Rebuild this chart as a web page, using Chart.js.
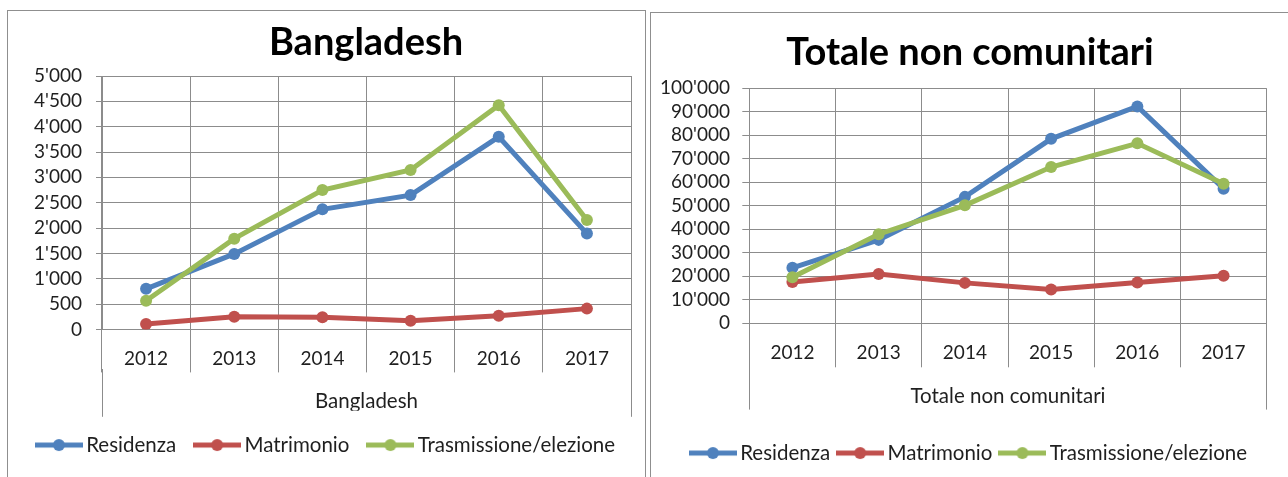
<!DOCTYPE html>
<html>
<head>
<meta charset="utf-8">
<script src="https://cdn.jsdelivr.net/npm/chart.js@4.4.1/dist/chart.umd.min.js"></script>
<style>
  html, body { margin: 0; padding: 0; background: #fff; overflow: hidden; }
  body { width: 1288px; height: 477px; position: relative; }
  .frame { position: absolute; border: 1px solid #8f8f8f; background: #fff; }
  #frameL { left: 7px; top: 10px; width: 637px; height: 480px; }
  #frameR { left: 650px; top: 12px; width: 660px; height: 480px; }
  .wrap { position: absolute; }
  #wrapL { left: 8px; top: 11px; width: 637px; height: 466px; }
  #wrapR { left: 651px; top: 13px; width: 639px; height: 464px; }
</style>
</head>
<body>
<div class="frame" id="frameL"></div>
<div class="frame" id="frameR"></div>
<div class="wrap" id="wrapL"><canvas id="chartL"></canvas></div>
<div class="wrap" id="wrapR"><canvas id="chartR"></canvas></div>
<script>
// ---------- data ----------
const years = ['2012', '2013', '2014', '2015', '2016', '2017'];
const seriesNames = ['Residenza', 'Matrimonio', 'Trasmissione/elezione'];

const bdResidenza    = [800, 1490, 2370, 2650, 3800, 1890];
const bdMatrimonio   = [105, 250, 240, 170, 270, 410];
const bdTrasmissione = [565, 1790, 2750, 3145, 4425, 2160];

const tncResidenza    = [23600, 35500, 53800, 78500, 92300, 57300];
const tncMatrimonio   = [17600, 21000, 17200, 14400, 17400, 20200];
const tncTrasmissione = [19600, 37900, 50200, 66500, 76600, 59400];

const colors = ['#4f81bd', '#c0504d', '#9bbb59'];
const gridColor = '#8c8c8c';
const textColor = '#1f1f1f';
const FONT = 'Lato, "Open Sans", sans-serif';

// thousands with apostrophe, e.g. 5'000
const fmt = (v) => String(v).replace(/\B(?=(\d{3})+(?!\d))/g, "'");

// legend icon: line with a dot in the middle
function legendIcon(color){
  const c = document.createElement('canvas');
  c.width = 48; c.height = 14;
  const g = c.getContext('2d');
  g.strokeStyle = color; g.lineWidth = 5;
  g.beginPath(); g.moveTo(0, 7); g.lineTo(48, 7); g.stroke();
  g.fillStyle = color;
  g.beginPath(); g.arc(24, 7, 6, 0, Math.PI * 2); g.fill();
  return c;
}

// move title / legend centres to where the original has them
function centerBlocks(titleX, legendX){
  return {
    id: 'centerBlocks',
    afterLayout(chart){
      const t = chart.titleBlock, lg = chart.legend;
      let w = t.right - t.left;
      t.left = titleX - w / 2; t.right = titleX + w / 2;
      w = lg.right - lg.left;
      lg.left = legendX - w / 2; lg.right = legendX + w / 2;
    }
  };
}

function makeChart(id, title, values, L){
  const datasets = values.map((data, i) => ({
    label: seriesNames[i],
    data,
    borderColor: colors[i],
    backgroundColor: colors[i],
    pointBackgroundColor: colors[i],
    pointBorderWidth: 0,
    pointRadius: 6,
    borderWidth: 5,
    tension: 0,
    order: 3 - i
  }));
  const tickFont = { family: FONT, size: 19 };
  const wordFont = { family: FONT, size: 20.5 };
  return new Chart(document.getElementById(id), {
    type: 'line',
    data: { labels: years, datasets },
    plugins: [centerBlocks(L.titleX, L.legendX)],
    options: {
      responsive: true,
      maintainAspectRatio: false,
      animation: false,
      layout: { padding: { left: 0, top: 0, right: L.padR, bottom: L.padB } },
      plugins: {
        tooltip: { enabled: false },
        title: {
          display: true, text: title, color: '#000',
          font: { family: FONT, size: 38, weight: 'bold' },
          padding: { top: L.titleTop, bottom: L.titleBottom }
        },
        legend: {
          position: 'bottom',
          labels: {
            usePointStyle: true,
            pointStyleWidth: 34,
            padding: L.legendPad,
            color: textColor,
            font: wordFont,
            sort: (a, b) => a.datasetIndex - b.datasetIndex,
            generateLabels(chart){
              const items = Chart.defaults.plugins.legend.labels.generateLabels(chart);
              items.forEach(it => { it.pointStyle = legendIcon(colors[it.datasetIndex]); });
              return items;
            }
          }
        }
      },
      scales: {
        x: {
          type: 'category', position: 'bottom', offset: true, weight: 0,
          grid: { offset: true, color: gridColor, tickColor: gridColor, tickLength: L.xTick },
          border: { color: gridColor },
          ticks: { font: tickFont, color: textColor, padding: L.xPad, maxRotation: 0, autoSkip: false },
          afterFit: (s) => { s.height = L.xH; }
        },
        x2: {
          type: 'category', position: 'bottom', offset: true, weight: 1,
          labels: [title],
          grid: { offset: true, drawOnChartArea: false, color: gridColor, tickColor: gridColor, tickLength: L.x2Tick },
          border: { display: false },
          ticks: { font: wordFont, color: textColor, padding: L.x2Pad, maxRotation: 0 },
          afterFit: (s) => { s.height = L.x2H; }
        },
        y: {
          min: 0, max: L.yMax,
          grid: { color: gridColor, tickColor: gridColor, tickLength: L.yTick },
          border: { color: gridColor },
          ticks: { stepSize: L.yStep, autoSkip: false, font: tickFont, color: textColor, padding: L.yPad, callback: fmt },
          afterFit: (s) => { s.width = L.yW; }
        }
      }
    }
  });
}

makeChart('chartL', 'Bangladesh', [bdResidenza, bdMatrimonio, bdTrasmissione], {
  padR: 14, padB: 11.7, yW: 94, yTick: 6, yPad: 14, yMax: 5000, yStep: 500,
  titleTop: 8.7, titleBottom: 10.7, titleX: 358, legendX: 320.5,
  xTick: 43, xPad: -24.7, xH: 40,
  x2Tick: 47.4, x2Pad: -27.3, x2H: 41.4,
  legendPad: 24
});

makeChart('chartR', 'Totale non comunitari', [tncResidenza, tncMatrimonio, tncTrasmissione], {
  padR: 23.3, padB: 3.7, yW: 98.3, yTick: 7, yPad: 12.3, yMax: 100000, yStep: 10000,
  titleTop: 17.2, titleBottom: 12.5, titleX: 319, legendX: 320.5,
  xTick: 44, xPad: -26.1, xH: 40,
  x2Tick: 46.3, x2Pad: -25.3, x2H: 66.5,
  legendPad: 13
});
</script>
</body>
</html>
